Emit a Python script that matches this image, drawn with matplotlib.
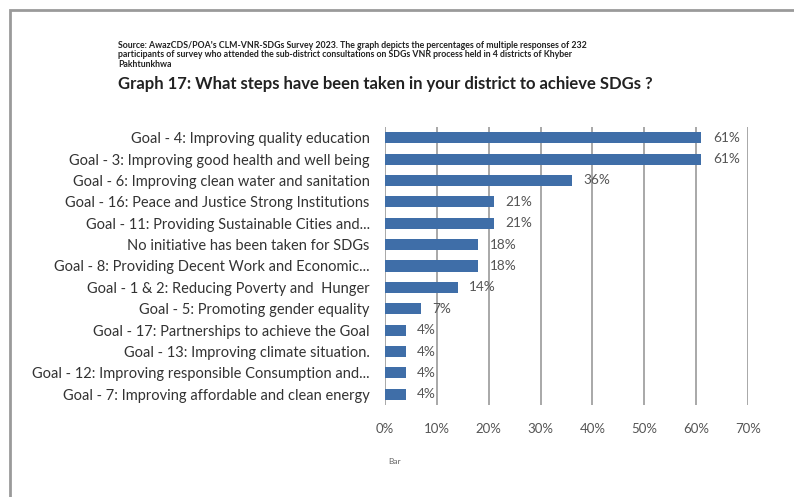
import matplotlib.pyplot as plt
from matplotlib.patches import Rectangle

plt.rcParams['font.family'] = ['Lato', 'DejaVu Sans']

goals = [
    'Goal - 4: Improving quality education',
    'Goal - 3: Improving good health and well being',
    'Goal - 6: Improving clean water and sanitation',
    'Goal - 16: Peace and Justice Strong Institutions',
    'Goal - 11: Providing Sustainable Cities and...',
    'No initiative has been taken for SDGs',
    'Goal - 8: Providing Decent Work and Economic...',
    'Goal - 1 & 2: Reducing Poverty and  Hunger',
    'Goal - 5: Promoting gender equality',
    'Goal - 17: Partnerships to achieve the Goal',
    'Goal - 13: Improving climate situation.',
    'Goal - 12: Improving responsible Consumption and...',
    'Goal - 7: Improving affordable and clean energy',
]
shares = [61, 61, 36, 21, 21, 18, 18, 14, 7, 4, 4, 4, 4]
xticks = [0, 10, 20, 30, 40, 50, 60, 70]

source_note = ("Source: AwazCDS/POA's CLM-VNR-SDGs Survey 2023. The graph depicts the percentages of multiple responses of 232\n"
               "participants of survey who attended the sub-district consultations on SDGs VNR process held in 4 districts of Khyber\n"
               "Pakhtunkhwa")
title = 'Graph 17: What steps have been taken in your district to achieve SDGs ?'

fig = plt.figure(figsize=(7.94, 4.97), dpi=100)
ax = fig.add_axes([0.4849, 0.1851, 0.4572, 0.5594])

ypos = range(len(goals))
ax.barh(ypos, shares, height=0.52, color='#3f6ea8', zorder=1)
for y, v in zip(ypos, shares):
    ax.text(v + 2.2, y, f'{v}%', va='center', ha='left', fontsize=9.8, color='#555555', zorder=3)

ax.set_xlim(0, 70)
ax.set_ylim(len(goals) - 0.5, -0.5)
ax.set_xticks(xticks)
ax.set_xticklabels([f'{t}%' for t in xticks], fontsize=9.5, color='#555555')
ax.set_yticks(list(ypos))
ax.set_yticklabels(goals, fontsize=10.5, color='#333333')
ax.tick_params(axis='both', length=0)
ax.tick_params(axis='x', pad=13)
ax.tick_params(axis='y', pad=11)
ax.xaxis.grid(True, color='#9a9a9a', lw=1.2)
ax.set_axisbelow(True)
for s in ax.spines.values():
    s.set_visible(False)

fig.text(118 / 794, 1 - 41 / 497, source_note, fontsize=6.3, fontweight='bold',
         color='#222222', va='top', ha='left', linespacing=1.05)
fig.text(118 / 794, 1 - 84 / 497, title, fontsize=12, fontweight='bold',
         color='#222222', va='center', ha='left')
fig.text(388 / 794, 1 - 462 / 497, 'Bar', fontsize=6, color='#666666', va='center')

# outer frame of the exported chart
fig.patches.append(Rectangle((10 / 794, -0.1), 1.2, (487 / 497) + 0.1,
                             transform=fig.transFigure, fill=False,
                             edgecolor='#9a9a9a', lw=2))

fig.savefig('out.png', dpi=100)
